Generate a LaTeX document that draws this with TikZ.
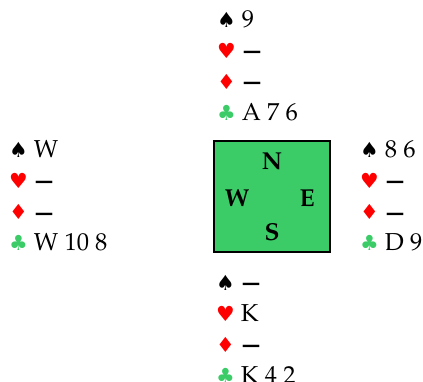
\documentclass[tikz,border=0pt]{standalone}
\usepackage{fontspec}
\usepackage[T1]{fontenc}
\usepackage{mathpazo}
\newfontfamily\suitfont[Scale=0.85]{DejaVu Sans}
\newfontfamily\dashfont{DejaVu Sans Bold}
\definecolor{tablegreen}{RGB}{59,204,104}
\newcommand{\spd}{{\suitfont ♠}}
\newcommand{\hrt}{{\color{red}\suitfont ♥}}
\newcommand{\dmd}{{\color{red}\suitfont ♦}}
\newcommand{\clb}{{\color{tablegreen}\suitfont ♣}}
\newcommand{\nocard}{{\dashfont\fontsize{18.5}{31}\selectfont\kern1pt\raisebox{1pt}{—}}}
\begin{document}
\begin{tikzpicture}[
  x=1pt, y=-1pt,
  hand/.style = {anchor=base west, inner sep=0pt, align=left,
    font=\fontsize{24.5}{31}\selectfont},
  seat/.style = {inner sep=0pt, font=\fontsize{24.5}{31}\selectfont\bfseries}
  ]
  \useasboundingbox (0,0) rectangle (423,382);
  % the table
  \node[draw, line width=1.5pt, fill=tablegreen, minimum width=116pt,
    minimum height=111pt] (table) at (272,196.5) {};
  \node[seat] (N) at ([yshift=35.5pt]table.center) {N};
  \node[seat] (S) at ([yshift=-36pt]table.center) {S};
  \node[seat] (W) at ([xshift=-35pt,yshift=-2pt]table.center) {W};
  \node[seat] (E) at ([xshift=35pt,yshift=-2pt]table.center) {E};
  % the four hands (anchored at the club line)
  \node[hand] (north) at (217,121) {\spd\ 9\\\hrt\ \nocard\\\dmd\ \nocard\\\clb\ A 7 6};
  \node[hand] (west) at (9,251) {\spd\ W\\\hrt\ \nocard\\\dmd\ \nocard\\\clb\ W 10 8};
  \node[hand] (east) at (360,251) {\spd\ 8 6\\\hrt\ \nocard\\\dmd\ \nocard\\\clb\ D 9};
  \node[hand] (south) at (216,383) {\spd\ \nocard\\\hrt\ K\\\dmd\ \nocard\\\clb\ K 4 2};
\end{tikzpicture}
\end{document}
